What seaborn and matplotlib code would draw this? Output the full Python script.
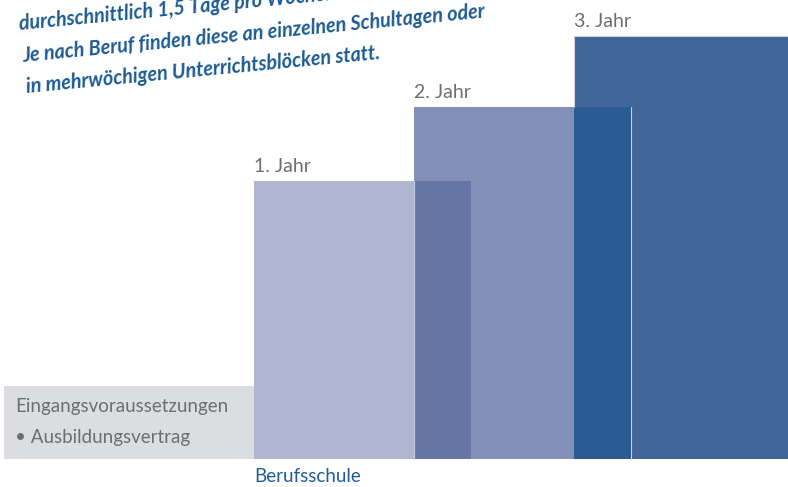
import matplotlib
matplotlib.use("Agg")
import matplotlib.pyplot as plt
import seaborn as sns
import pandas as pd
from matplotlib.patches import Rectangle

# ---- data ----
jahre = ["1. Jahr", "2. Jahr", "3. Jahr"]
hoehen = [278, 352, 423]
balken_farben = ["#aeb6d1", "#8390b8", "#436698"]
ueberlapp_farben = ["#6677a7", "#2a5b93"]
notiz_zeilen = [
    "durchschnittlich 1,5 Tage pro Woche.",
    "Je nach Beruf finden diese an einzelnen Schultagen oder",
    "in mehrwöchigen Unterrichtsblöcken statt.",
]
voraussetzung_titel = "Eingangsvoraussetzungen"
voraussetzung_punkt = "• Ausbildungsvertrag"
schul_label = "Berufsschule"

# ---- layout ----
W, H = 788, 487
base_px = 459
first_left = 254
step = 160
bar_w = 217
edge_col = "#c9cee0"

sns.set_theme(style="white")
plt.rcParams["font.family"] = ["Lato", "DejaVu Sans"]

fig = plt.figure(figsize=(W / 100, H / 100), dpi=100)
ax = fig.add_axes([0, 0, 1, 1])

centers = [first_left + i * step + bar_w / 2 for i in range(len(jahre))]
df = pd.DataFrame({"pos": centers, "hoehe": hoehen, "jahr": jahre})

sns.barplot(data=df, x="pos", y="hoehe", hue="jahr", palette=balken_farben,
            native_scale=True, width=bar_w / step, dodge=False, legend=False,
            saturation=1, linewidth=0, ax=ax)
ax.set_xlim(0, W)
ax.set_ylim(-(H - base_px), base_px)
ax.axis("off")

# overlaps
lefts = [c - bar_w / 2 for c in centers]
rights = [c + bar_w / 2 for c in centers]
for i in range(len(jahre) - 1):
    left, right = lefts[i + 1], rights[i]
    ax.bar((left + right) / 2, min(hoehen[i], hoehen[i + 1]), width=right - left,
           color=ueberlapp_farben[i], linewidth=0, zorder=3)

# thin light edges
ax.plot([lefts[1], lefts[1]], [0, hoehen[0]], color=edge_col, lw=0.8, zorder=4)
ax.plot([rights[1], rights[1]], [0, hoehen[1]], color=edge_col, lw=0.8, zorder=4)
ax.plot([lefts[2], lefts[2], W], [hoehen[1], hoehen[2], hoehen[2]],
        color=edge_col, lw=0.8, zorder=4)

# year labels
for l, h, lab in zip(lefts, hoehen, jahre):
    ax.annotate(lab, xy=(l, h), xytext=(0, 6.5), textcoords="offset points",
                ha="left", va="baseline", fontsize=14, color="#6d6e71")

# gray box
ax.add_patch(Rectangle((4, 0), first_left - 4, 73, facecolor="#dcdde0",
                       edgecolor="none", zorder=1))
ax.text(15, base_px - 412, voraussetzung_titel, fontsize=13.5, color="#6d6e71",
        ha="left", va="baseline")
ax.text(15, base_px - 443, voraussetzung_punkt, fontsize=13.5, color="#6d6e71",
        ha="left", va="baseline")

ax.text(first_left, base_px - 482, schul_label, fontsize=13.5, color="#1f5c99",
        ha="left", va="baseline")

# handwritten note
starts = [(20, 30), (23, 62), (27, 93)]
for (x, y), line in zip(starts, notiz_zeilen):
    ax.text(x, base_px - y, line, fontsize=14.2, color="#1c5a94", rotation=5.5,
            rotation_mode="anchor", ha="left", va="baseline",
            fontweight="bold", style="italic")

fig.savefig("out.png", dpi=100)
